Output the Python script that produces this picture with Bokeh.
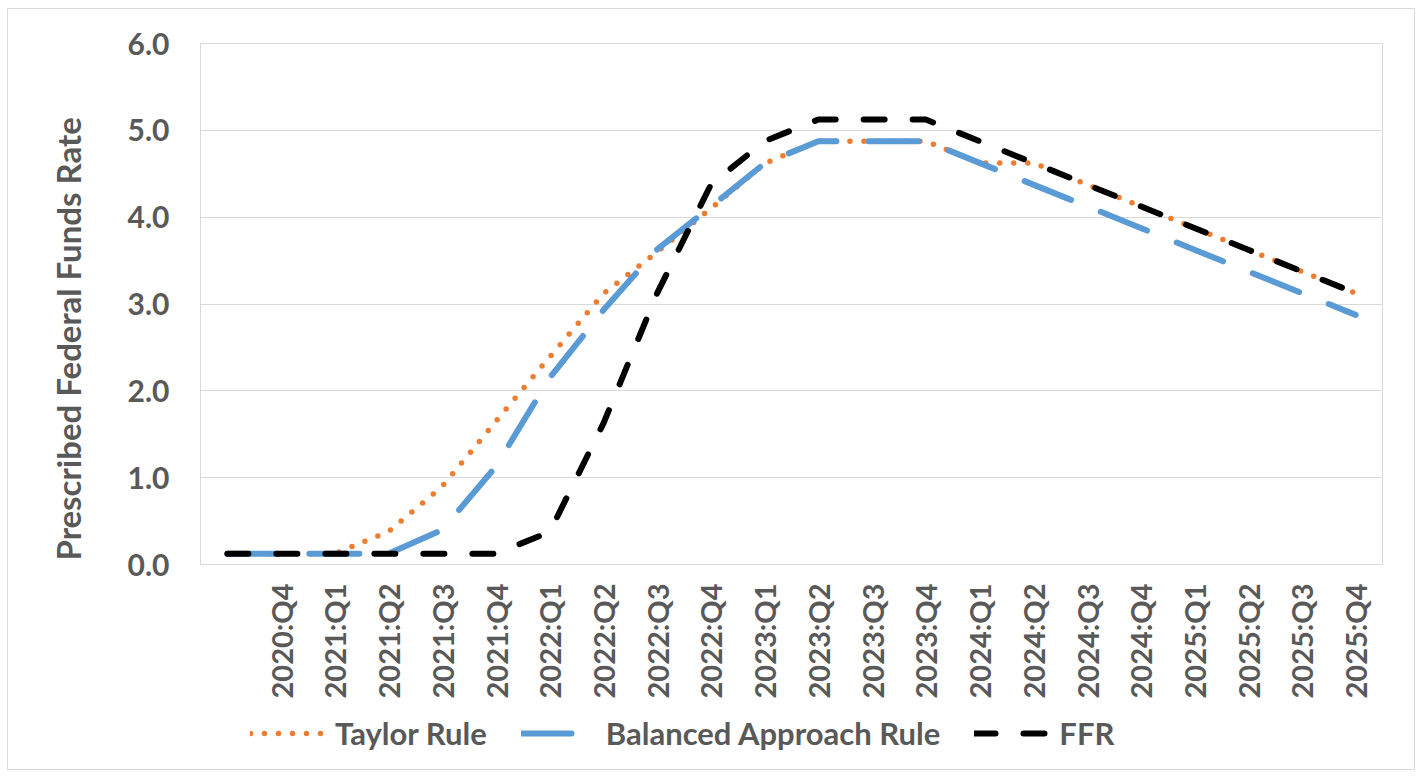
import math
from bokeh.plotting import figure
from bokeh.layouts import column
from bokeh.models import (FixedTicker, Legend, LegendItem, Range1d,
                          NumeralTickFormatter, Title)
from bokeh.embed import file_html
from bokeh.resources import INLINE

# ---- data -------------------------------------------------------------
quarters = ["", "2020:Q4",
            "2021:Q1", "2021:Q2", "2021:Q3", "2021:Q4",
            "2022:Q1", "2022:Q2", "2022:Q3", "2022:Q4",
            "2023:Q1", "2023:Q2", "2023:Q3", "2023:Q4",
            "2024:Q1", "2024:Q2", "2024:Q3", "2024:Q4",
            "2025:Q1", "2025:Q2", "2025:Q3", "2025:Q4"]

taylor = [0.125, 0.125, 0.125, 0.38, 0.90, 1.65, 2.39, 3.12, 3.60, 4.10, 4.62,
          4.875, 4.875, 4.875, 4.625, 4.625, 4.375, 4.125, 3.875, 3.625, 3.375, 3.125]

balanced = [0.125, 0.125, 0.125, 0.125, 0.40, 1.13, 2.15, 2.93, 3.63, 4.12, 4.62,
            4.875, 4.875, 4.875, 4.625, 4.375, 4.125, 3.875, 3.625, 3.375, 3.125, 2.875]

ffr = [0.125, 0.125, 0.125, 0.125, 0.125, 0.125, 0.375, 1.625, 3.125, 4.375, 4.875,
       5.125, 5.125, 5.125, 4.875, 4.625, 4.375, 4.125, 3.875, 3.625, 3.375, 3.125]

series_names = ["Taylor Rule", "Balanced Approach Rule", "FFR"]
y_title = "Prescribed Federal Funds Rate"
y_ticks = [0, 1, 2, 3, 4, 5, 6]

x = list(range(len(quarters)))

# ---- styling ----------------------------------------------------------
FONT = "Lato"
TXT = "#595959"
W = 1406
STYLES = [dict(line_color="#ED7D31", line_width=5.5, line_dash="0 14",
               line_cap="round", line_join="round"),
          dict(line_color="#5B9BD5", line_width=6, line_dash="50 32",
               line_cap="round", line_join="round"),
          dict(line_color="#000000", line_width=6, line_dash="21 28",
               line_cap="round", line_join="round")]

# ---- main chart -------------------------------------------------------
p = figure(width=W, height=696, output_backend="svg", toolbar_location=None,
           x_range=Range1d(-0.5, len(quarters) - 0.5), y_range=Range1d(0, 6),
           min_border_left=189, min_border_right=32, min_border_top=34,
           min_border_bottom=141)

p.outline_line_color = "#d9d9d9"
p.outline_line_width = 1
p.xgrid.grid_line_color = None
p.ygrid.grid_line_color = "#d9d9d9"
p.ygrid.grid_line_width = 1

# y axis
p.yaxis.ticker = FixedTicker(ticks=y_ticks)
p.yaxis.formatter = NumeralTickFormatter(format="0.0")
p.yaxis.axis_line_color = None
p.yaxis.major_tick_line_color = None
p.yaxis.minor_tick_line_color = None
p.yaxis.major_tick_out = 0
p.yaxis.major_label_standoff = 31
p.yaxis.major_label_text_font = FONT
p.yaxis.major_label_text_font_style = "bold"
p.yaxis.major_label_text_font_size = "30px"
p.yaxis.major_label_text_color = TXT

# y title (placed like Excel: starting near the bottom of the plot)
yt = Title(text=y_title, align="left", offset=4, standoff=74,
           text_font=FONT, text_font_style="bold", text_font_size="33px",
           text_color=TXT)
p.add_layout(yt, "left")

# x axis
p.xaxis.ticker = FixedTicker(ticks=x[1:])
p.xaxis.major_label_overrides = {i: quarters[i] for i in x[1:]}
p.xaxis.major_label_orientation = math.pi / 2
p.xaxis.axis_line_color = None
p.xaxis.major_tick_line_color = None
p.xaxis.minor_tick_line_color = None
p.xaxis.major_tick_out = 0
p.xaxis.major_label_standoff = 19
p.xaxis.major_label_text_font = FONT
p.xaxis.major_label_text_font_style = "bold"
p.xaxis.major_label_text_font_size = "29px"
p.xaxis.major_label_text_color = TXT

for ys, st in zip([taylor, balanced, ffr], STYLES):
    p.line(x, ys, **st)

# ---- legend strip -----------------------------------------------------
lg = figure(width=W, height=64, output_backend="svg", toolbar_location=None,
            x_range=Range1d(0, 1), y_range=Range1d(0, 1),
            x_axis_location=None, y_axis_location=None,
            min_border=0, min_border_left=0, min_border_right=0,
            min_border_top=0, min_border_bottom=0)
lg.grid.visible = False
lg.outline_line_color = None
nan = float("nan")
proxies = [lg.line([nan], [nan], **st) for st in STYLES]

legend = Legend(items=[LegendItem(label=n, renderers=[r])
                       for n, r in zip(series_names, proxies)],
                orientation="horizontal", location=(50, 17))
legend.border_line_color = None
legend.background_fill_alpha = 0
legend.margin = 0
legend.padding = 0
legend.spacing = 34
legend.glyph_width = 75
legend.glyph_height = 30
legend.label_height = 30
legend.label_standoff = 10
legend.label_text_font = FONT
legend.label_text_font_style = "bold"
legend.label_text_font_size = "31px"
legend.label_text_color = TXT
lg.add_layout(legend, "center")

layout = column(p, lg, spacing=0)
layout.styles = {"border": "1px solid #d9d9d9", "margin-left": "7px",
                 "margin-top": "8px"}

open("out.html", "w").write(file_html(layout, INLINE))
